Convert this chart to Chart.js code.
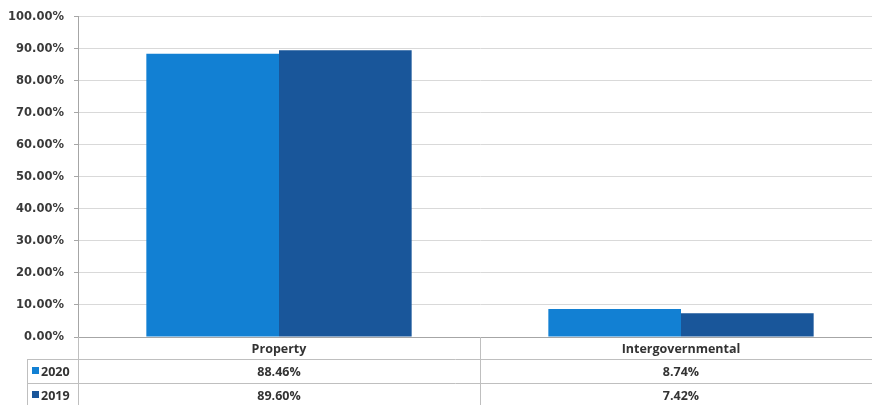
<!DOCTYPE html>
<html>
<head>
<meta charset="utf-8">
<script src="https://cdn.jsdelivr.net/npm/chart.js@4/dist/chart.umd.min.js"></script>
<style>
  html, body { margin: 0; padding: 0; background: #fff; overflow: hidden; }
  #wrap { width: 884px; height: 405px; }
</style>
</head>
<body>
<div id="wrap"><canvas id="myChart" width="884" height="405"></canvas></div>
<script>
// chart values
const categories = ["Property", "Intergovernmental"];
const seriesNames = ["2020", "2019"];
const values2020 = [88.46, 8.74];
const values2019 = [89.60, 7.42];
const yTicks = [0, 10, 20, 30, 40, 50, 60, 70, 80, 90, 100];
const barColors = ["#1280d3", "#19569a"];

const seriesValues = [values2020, values2019];

// draws the data table under the plot (Excel style)
const dataTable = {
    id: "dataTable",
    afterDraw(chart) {
        const ctx = chart.ctx;
        const area = chart.chartArea;
        const xs = chart.scales.x;
        const catW = (area.right - area.left) / categories.length;
        const top = area.bottom;
        const rows = [top + 22, top + 46, top + 69];
        const legendLeft = 27;

        ctx.save();
        ctx.strokeStyle = "#bfbfbf";
        ctx.lineWidth = 1;
        ctx.beginPath();
        // horizontal lines
        ctx.moveTo(legendLeft, rows[0] + 0.5); ctx.lineTo(chart.width, rows[0] + 0.5);
        ctx.moveTo(legendLeft, rows[1] + 0.5); ctx.lineTo(chart.width, rows[1] + 0.5);
        ctx.moveTo(legendLeft, rows[2] + 0.5); ctx.lineTo(chart.width, rows[2] + 0.5);
        // vertical lines
        ctx.moveTo(legendLeft + 0.5, rows[0]); ctx.lineTo(legendLeft + 0.5, chart.height);
        ctx.moveTo(area.left + 0.5, top); ctx.lineTo(area.left + 0.5, chart.height);
        for (let i = 1; i < categories.length; i++) {
            const x = Math.round(area.left + catW * i) + 0.5;
            ctx.moveTo(x, top); ctx.lineTo(x, chart.height);
        }
        ctx.stroke();

        ctx.fillStyle = "#333333";
        ctx.font = "bold 12.5px 'Open Sans'";
        ctx.textAlign = "center";
        ctx.textBaseline = "middle";
        categories.forEach((c, i) => {
            const cx = xs.getPixelForValue(i);
            ctx.fillText(c, cx, top + 12);
            seriesValues.forEach((vals, s) => {
                ctx.fillText(vals[i].toFixed(2) + "%", cx, rows[s] + 13);
            });
        });

        // legend keys
        ctx.textAlign = "left";
        ctx.font = "bold 12.5px 'Open Sans'";
        seriesNames.forEach((name, s) => {
            const cy = rows[s] + 12;
            ctx.fillStyle = barColors[s];
            ctx.fillRect(32, cy - 4, 7, 7);
            ctx.fillStyle = "#333333";
            ctx.fillText(name, 41, cy + 1);
        });
        ctx.restore();
    }
};

new Chart("myChart", {
    type: "bar",
    data: {
        labels: categories,
        datasets: seriesNames.map((name, s) => ({
            label: name,
            data: seriesValues[s],
            backgroundColor: barColors[s],
            borderWidth: 0,
            categoryPercentage: 0.66,
            barPercentage: 1.0
        }))
    },
    options: {
        responsive: false,
        animation: false,
        layout: {
            padding: { top: 6, right: 2, bottom: 60, left: 0 }
        },
        plugins: {
            legend: { display: false },
            tooltip: { enabled: false }
        },
        scales: {
            x: {
                ticks: { display: false },
                grid: { display: false },
                border: { color: "#a6a6a6" }
            },
            y: {
                min: 0,
                max: 100,
                afterBuildTicks: (scale) => {
                    scale.ticks = yTicks.map(v => ({ value: v }));
                },
                afterFit: (scale) => {
                    scale.width = 78;
                },
                ticks: {
                    padding: 10,
                    color: "#3a3a3a",
                    font: { family: "DejaVu Sans", size: 11.5, weight: "bold" },
                    callback: (v) => v.toFixed(2) + "%"
                },
                grid: {
                    color: "#d9d9d9",
                    tickLength: 4,
                    tickColor: "#a6a6a6"
                },
                border: { color: "#a6a6a6" }
            }
        }
    },
    plugins: [dataTable]
});
</script>
</body>
</html>
